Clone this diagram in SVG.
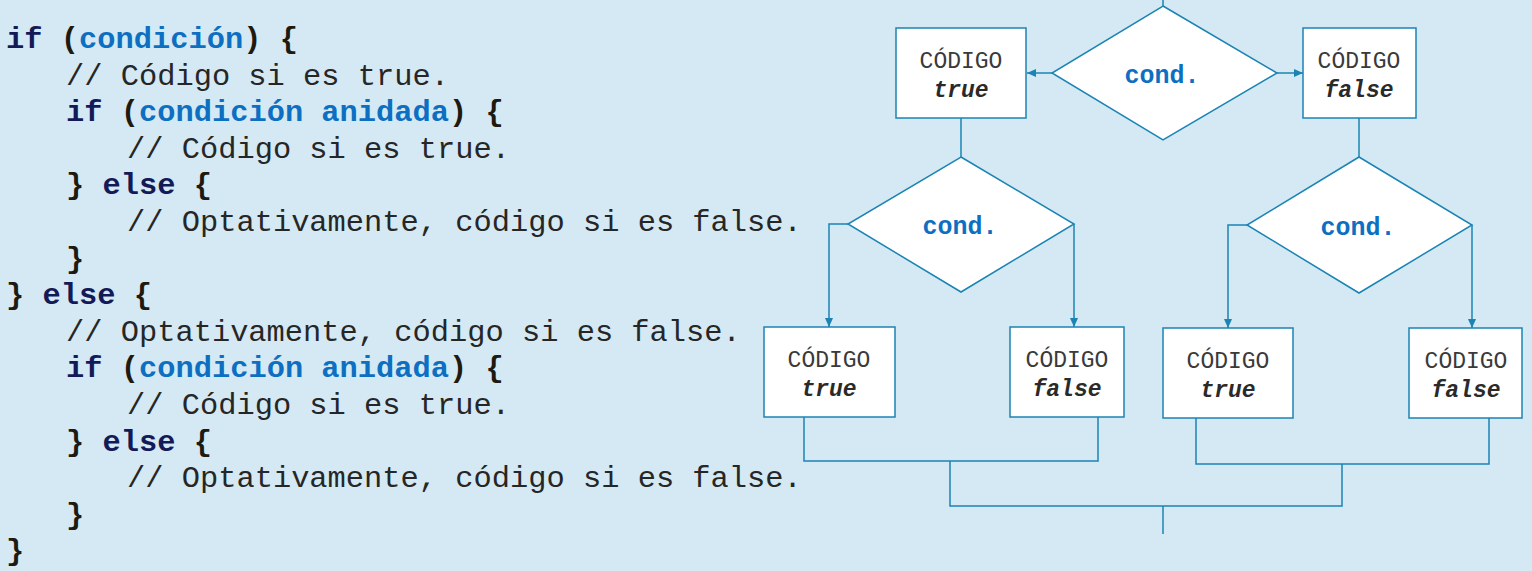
<svg xmlns="http://www.w3.org/2000/svg" width="1532" height="571" viewBox="0 0 1532 571">
<style>
.code{font-family:"Liberation Mono",monospace;font-size:30.4px;fill:#262626}
.kw{font-weight:bold;fill:#131a57}
.br{font-weight:bold;fill:#1e1a10}
.cd{font-weight:bold;fill:#0d6fc1}
.node{fill:#ffffff;stroke:#1b84b4;stroke-width:1.5}
.lbl{font-family:"Liberation Mono",monospace;font-size:23px;fill:#3a3a3a;text-anchor:middle}
.val{font-family:"Liberation Mono",monospace;font-size:23px;font-weight:bold;font-style:italic;fill:#2a2a2a;text-anchor:middle}
.cond{font-family:"Liberation Mono",monospace;font-size:25px;font-weight:bold;fill:#0d6fc1;text-anchor:middle}
.conn{fill:none;stroke:#1b84b4;stroke-width:1.5}
</style>
<defs>
<marker id="arr" markerUnits="userSpaceOnUse" markerWidth="9" markerHeight="8" refX="9" refY="4" orient="auto">
<path d="M0,0 L9,4 L0,8 z" fill="#1b84b4"/>
</marker>
</defs>
<rect x="0" y="0" width="1532" height="571" fill="#d4e9f4"/>
<g id="code" class="code">
<text x="6" y="48"><tspan class="kw">if</tspan> <tspan class="br">(</tspan><tspan class="cd">condición</tspan><tspan class="br">)</tspan> <tspan class="br">{</tspan></text>
<text x="66" y="85">// Código si es true.</text>
<text x="66" y="121"><tspan class="kw">if</tspan> <tspan class="br">(</tspan><tspan class="cd">condición anidada</tspan><tspan class="br">)</tspan> <tspan class="br">{</tspan></text>
<text x="127" y="158">// Código si es true.</text>
<text x="66" y="194"><tspan class="br">}</tspan> <tspan class="kw">else</tspan> <tspan class="br">{</tspan></text>
<text x="127" y="231">// Optativamente, código si es false.</text>
<text x="66" y="268"><tspan class="br">}</tspan></text>
<text x="6" y="304"><tspan class="br">}</tspan> <tspan class="kw">else</tspan> <tspan class="br">{</tspan></text>
<text x="66" y="341">// Optativamente, código si es false.</text>
<text x="66" y="377"><tspan class="kw">if</tspan> <tspan class="br">(</tspan><tspan class="cd">condición anidada</tspan><tspan class="br">)</tspan> <tspan class="br">{</tspan></text>
<text x="127" y="414">// Código si es true.</text>
<text x="66" y="451"><tspan class="br">}</tspan> <tspan class="kw">else</tspan> <tspan class="br">{</tspan></text>
<text x="127" y="487">// Optativamente, código si es false.</text>
<text x="66" y="524"><tspan class="br">}</tspan></text>
<text x="6" y="560"><tspan class="br">}</tspan></text>
</g>
<g id="connectors">
<path class="conn" d="M1163,0 V6"/>
<path class="conn" d="M1052,73 H1027" marker-end="url(#arr)"/>
<path class="conn" d="M1277,73 H1303" marker-end="url(#arr)"/>
<path class="conn" d="M961,118 V157"/>
<path class="conn" d="M1359,118 V157"/>
<path class="conn" d="M848,224 H829 V327" marker-end="url(#arr)"/>
<path class="conn" d="M1074,224 V327" marker-end="url(#arr)"/>
<path class="conn" d="M1247,225 H1228 V328" marker-end="url(#arr)"/>
<path class="conn" d="M1472,225 V328" marker-end="url(#arr)"/>
<path class="conn" d="M804,417 V461 H1098 V417"/>
<path class="conn" d="M1196,418 V464 H1489 V418"/>
<path class="conn" d="M950,461 V506 H1342 V464"/>
<path class="conn" d="M1163,506 V534"/>
</g>
<g id="cond1">
<polygon class="node" points="1163,6 1277,73 1163,140 1052,73"/>
<text class="cond" x="1162" y="83">cond.</text>
</g>
<g id="true1">
<rect class="node" x="896" y="28" width="130" height="90"/>
<text class="lbl" x="961" y="68">CÓDIGO</text>
<text class="val" x="961" y="97">true</text>
</g>
<g id="false1">
<rect class="node" x="1303" y="28" width="113" height="90"/>
<text class="lbl" x="1359" y="68">CÓDIGO</text>
<text class="val" x="1359" y="97">false</text>
</g>
<g id="cond2">
<polygon class="node" points="961,157 1074,224 961,292 848,224"/>
<text class="cond" x="960" y="234">cond.</text>
</g>
<g id="cond3">
<polygon class="node" points="1359,157 1472,225 1359,293 1247,225"/>
<text class="cond" x="1358" y="235">cond.</text>
</g>
<g id="true2">
<rect class="node" x="764" y="327" width="131" height="90"/>
<text class="lbl" x="829" y="367">CÓDIGO</text>
<text class="val" x="829" y="396">true</text>
</g>
<g id="false2">
<rect class="node" x="1010" y="327" width="114" height="90"/>
<text class="lbl" x="1067" y="367">CÓDIGO</text>
<text class="val" x="1067" y="396">false</text>
</g>
<g id="true3">
<rect class="node" x="1163" y="328" width="130" height="90"/>
<text class="lbl" x="1228" y="368">CÓDIGO</text>
<text class="val" x="1228" y="397">true</text>
</g>
<g id="false3">
<rect class="node" x="1409" y="328" width="113" height="90"/>
<text class="lbl" x="1466" y="368">CÓDIGO</text>
<text class="val" x="1466" y="397">false</text>
</g>
</svg>
